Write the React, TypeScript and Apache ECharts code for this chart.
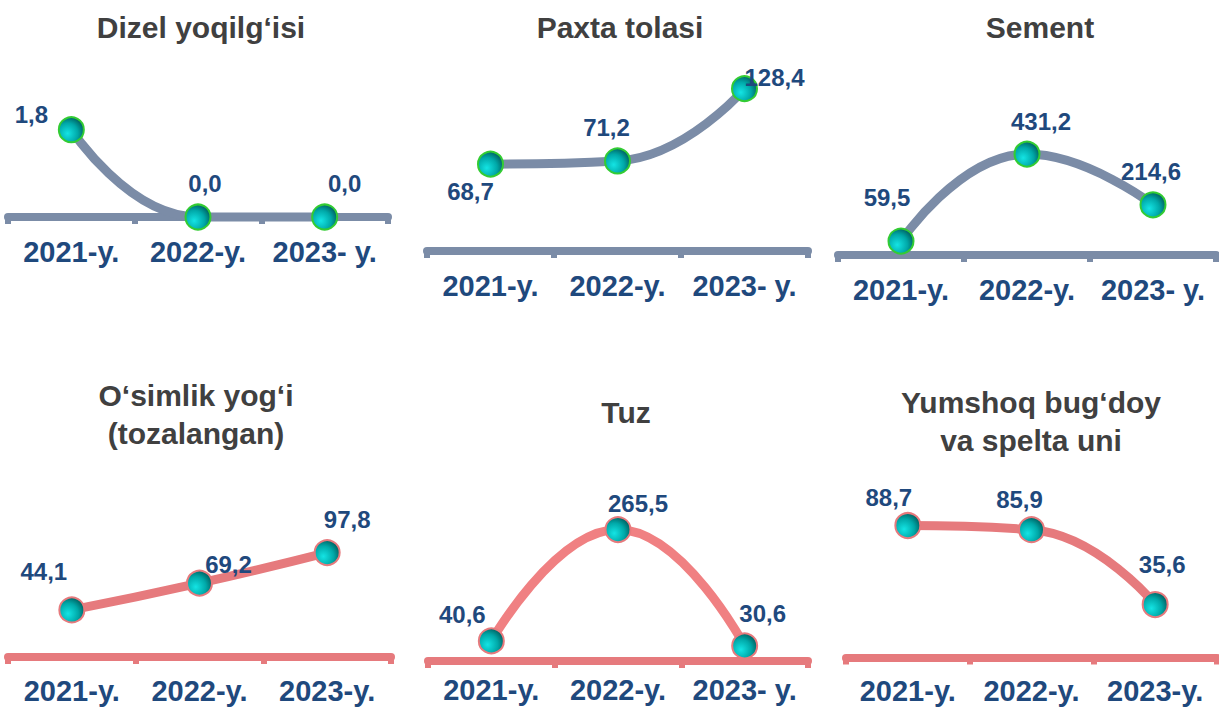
import React, { useEffect, useRef } from "react";
import * as echarts from "echarts";

// ---- data ----
const yearsA = ["2021-y.", "2022-y.", "2023- y."];
const yearsB = ["2021-y.", "2022-y.", "2023-y."];

const dizelValues = [1.8, 0.0, 0.0];
const paxtaValues = [68.7, 71.2, 128.4];
const sementValues = [59.5, 431.2, 214.6];
const osimlikValues = [44.1, 69.2, 97.8];
const tuzValues = [40.6, 265.5, 30.6];
const yumshoqValues = [88.7, 85.9, 35.6];

const titles = [
  "Dizel yoqilg‘isi",
  "Paxta tolasi",
  "Sement",
  "O‘simlik yog‘i\n(tozalangan)",
  "Tuz",
  "Yumshoq bug‘doy\nva spelta uni",
];

// ---- layout / styles ----
const BLUE_GREY = "#7B8CA7";
const PINK = "#E67A7D";
const PINK_TUZ = "#F08082";
const LABEL = "#1F497D";
const FONT = '"Liberation Sans", Arial, sans-serif';

type Panel = {
  title: string;
  values: number[];
  cats: string[];
  left: number;
  right: number;
  top: number;
  axisY: number;
  max: number;
  color: string;
  border: string;
  titleX: number;
  titleY: number;
  labelMargin: number;
  offsets: number[][];
};

const panels: Panel[] = [
  {
    title: titles[0], values: dizelValues, cats: yearsA,
    left: 8, right: 388, top: 120, axisY: 217, max: 2,
    color: BLUE_GREY, border: "#33CC33", titleX: 201, titleY: 27, labelMargin: 20,
    offsets: [[-40, -15], [7, -34], [20, -34]],
  },
  {
    title: titles[1], values: paxtaValues, cats: yearsA,
    left: 427, right: 808, top: 74, axisY: 251, max: 140,
    color: BLUE_GREY, border: "#33CC33", titleX: 620, titleY: 27, labelMargin: 20,
    offsets: [[-20, 27], [-11, -33], [30, -11]],
  },
  {
    title: titles[2], values: sementValues, cats: yearsA,
    left: 838, right: 1216, top: 138, axisY: 255, max: 500,
    color: BLUE_GREY, border: "#33CC33", titleX: 1040, titleY: 27, labelMargin: 20,
    offsets: [[-14, -44], [14, -33], [-2, -33]],
  },
  {
    title: titles[3], values: osimlikValues, cats: yearsB,
    left: 8, right: 391, top: 539.6, axisY: 657, max: 110,
    color: PINK, border: PINK, titleX: 196, titleY: 414, labelMargin: 19,
    offsets: [[-28, -38], [29, -19], [20, -33]],
  },
  {
    title: titles[4], values: tuzValues, cats: yearsA,
    left: 428, right: 808, top: 512.5, axisY: 661, max: 300,
    color: PINK_TUZ, border: PINK, titleX: 626, titleY: 412, labelMargin: 14,
    offsets: [[-29, -26], [20, -26], [18, -32]],
  },
  {
    title: titles[5], values: yumshoqValues, cats: yearsB,
    left: 846, right: 1217, top: 508.7, axisY: 657.5, max: 100,
    color: PINK, border: PINK, titleX: 1031, titleY: 421, labelMargin: 19,
    offsets: [[-19, -28], [-12, -30], [7, -40]],
  },
];

const fmt = (v: number) => v.toFixed(1).replace(".", ",");

export default function App() {
  const ref = useRef<HTMLDivElement>(null);

  useEffect(() => {
    document.body.style.margin = "0";
    if (!ref.current) return;
    const chart = echarts.init(ref.current, null, { renderer: "svg" });

    const sphere = {
      type: "radial",
      x: 0.35,
      y: 0.65,
      r: 0.75,
      colorStops: [
        { offset: 0, color: "#14E4E4" },
        { offset: 0.55, color: "#00A8A8" },
        { offset: 1, color: "#005252" },
      ],
    };

    const option: any = {
      animation: false,
      backgroundColor: "#ffffff",
      grid: panels.map((p) => ({
        left: p.left,
        width: p.right - p.left,
        top: p.top,
        height: p.axisY - p.top,
        containLabel: false,
        outerBoundsMode: "none",
      })),
      xAxis: panels.map((p, i) => ({
        type: "category",
        gridIndex: i,
        data: p.cats,
        boundaryGap: true,
        axisLine: { show: true, lineStyle: { color: p.color === PINK_TUZ ? PINK : p.color, width: 8 } },
        axisTick: {
          show: true,
          length: 7,
          alignWithLabel: false,
          lineStyle: { color: p.color === PINK_TUZ ? PINK : p.color, width: 6 },
        },
        axisLabel: {
          color: LABEL,
          fontSize: 29,
          fontWeight: "bold",
          fontFamily: FONT,
          margin: p.labelMargin,
          interval: 0,
        },
        splitLine: { show: false },
      })),
      yAxis: panels.map((p, i) => ({
        type: "value",
        gridIndex: i,
        min: 0,
        max: p.max,
        show: false,
        splitLine: { show: false },
      })),
      series: panels.map((p, i) => ({
        type: "line",
        xAxisIndex: i,
        yAxisIndex: i,
        smooth: 0.5,
        smoothConstraint: false,
        clip: false,
        symbol: "circle",
        symbolSize: 25,
        lineStyle: { color: p.color, width: 9 },
        itemStyle: { color: sphere, borderColor: p.border, borderWidth: 2 },
        emphasis: { disabled: true },
        label: {
          show: true,
          position: "inside",
          formatter: (d: any) => fmt(d.value),
          color: LABEL,
          fontSize: 24,
          fontWeight: "bold",
          fontFamily: FONT,
        },
        data: p.values.map((v, k) => ({
          value: v,
          label: { offset: p.offsets[k] },
        })),
      })),
      graphic: panels.map((p) => ({
        type: "text",
        x: p.titleX,
        y: p.titleY,
        style: {
          text: p.title,
          fill: "#404040",
          fontSize: 30,
          fontWeight: "bold",
          fontFamily: FONT,
          lineHeight: 38,
          align: "center",
          verticalAlign: "middle",
          textAlign: "center",
          textVerticalAlign: "middle",
        },
      })),
    };

    chart.setOption(option);
    return () => chart.dispose();
  }, []);

  return <div ref={ref} style={{ width: 1219, height: 709 }} />;
}
